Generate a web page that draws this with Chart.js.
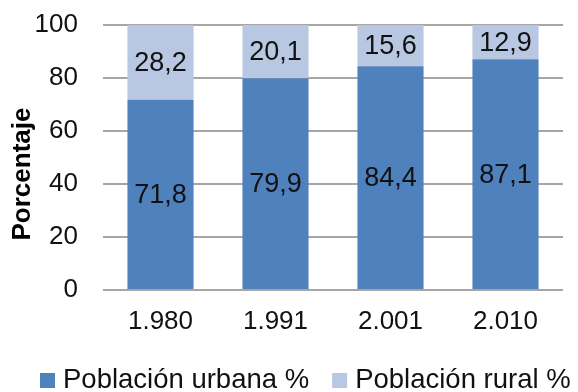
<!DOCTYPE html>
<html>
<head>
<meta charset="utf-8">
<script src="https://cdn.jsdelivr.net/npm/chart.js@4"></script>
<style>
  html, body { margin: 0; padding: 0; background: #ffffff; }
  #wrap { width: 578px; height: 392px; }
</style>
</head>
<body>
<div id="wrap"><canvas id="c" width="578" height="392"></canvas></div>
<script>
const years = ['1.980', '1.991', '2.001', '2.010'];
const urbana = [71.8, 79.9, 84.4, 87.1];
const rural = [28.2, 20.1, 15.6, 12.9];
const yTicks = [0, 20, 40, 60, 80, 100];

const FONT = "Arial, 'Liberation Sans', sans-serif";
const COLOR_URBANA = '#4f81bd';
const COLOR_RURAL = '#b9c8e2';
const fmt = v => v.toFixed(1).replace('.', ',');

// Writes each segment's value in the middle of its bar piece
const segmentLabels = {
  id: 'segmentLabels',
  afterDatasetsDraw(chart) {
    const ctx = chart.ctx;
    ctx.save();
    ctx.font = '27px ' + FONT;
    ctx.fillStyle = '#111111';
    ctx.textAlign = 'center';
    ctx.textBaseline = 'middle';
    chart.data.datasets.forEach((ds, i) => {
      const meta = chart.getDatasetMeta(i);
      meta.data.forEach((bar, j) => {
        const p = bar.getProps(['x', 'y', 'base'], true);
        ctx.fillText(fmt(ds.data[j]), p.x, (p.y + p.base) / 2 + 1);
      });
    });
    ctx.restore();
  }
};

// Vertical axis caption
const yCaption = {
  id: 'yCaption',
  afterDraw(chart) {
    const ctx = chart.ctx;
    ctx.save();
    ctx.translate(23, 174);
    ctx.rotate(-Math.PI / 2);
    ctx.font = 'bold 26px ' + FONT;
    ctx.fillStyle = '#000000';
    ctx.textAlign = 'center';
    ctx.textBaseline = 'middle';
    ctx.fillText('Porcentaje', 0, 0);
    ctx.restore();
  }
};

// Legend row under the axis, built from the datasets
const bottomLegend = {
  id: 'bottomLegend',
  afterDraw(chart) {
    const ctx = chart.ctx;
    ctx.save();
    ctx.font = '27.5px ' + FONT;
    ctx.textAlign = 'left';
    ctx.textBaseline = 'middle';
    let x = 40;
    const yMid = 380;
    chart.data.datasets.forEach(ds => {
      ctx.fillStyle = ds.backgroundColor;
      ctx.fillRect(x, yMid - 7, 15, 15);
      ctx.fillStyle = '#111111';
      const tx = x + 23;
      ctx.fillText(ds.label, tx, yMid);
      x = tx + ctx.measureText(ds.label).width + 23;
    });
    ctx.restore();
  }
};

new Chart(document.getElementById('c'), {
  type: 'bar',
  data: {
    labels: years,
    datasets: [
      {
        label: 'Población urbana %',
        data: urbana,
        backgroundColor: COLOR_URBANA,
        barPercentage: 0.575,
        categoryPercentage: 1.0
      },
      {
        label: 'Población rural %',
        data: rural,
        backgroundColor: COLOR_RURAL,
        barPercentage: 0.575,
        categoryPercentage: 1.0
      }
    ]
  },
  options: {
    responsive: false,
    animation: false,
    devicePixelRatio: 1,
    layout: { padding: { top: 25, right: 15, left: 0, bottom: 0 } },
    plugins: {
      legend: { display: false },
      tooltip: { enabled: false }
    },
    scales: {
      x: {
        stacked: true,
        grid: { display: false, drawTicks: false },
        border: { display: false },
        ticks: {
          font: { family: FONT, size: 26 },
          color: '#111111',
          padding: 16
        },
        afterFit(s) { s.height = 102; s.paddingLeft = 0; s.paddingRight = 0; }
      },
      y: {
        stacked: true,
        min: 0,
        max: 100,
        afterBuildTicks(s) { s.ticks = yTicks.map(v => ({ value: v })); },
        grid: { color: '#a6a6a6', lineWidth: 2, drawTicks: false },
        border: { display: false },
        ticks: {
          font: { family: FONT, size: 26 },
          color: '#111111',
          padding: 25
        },
        afterFit(s) { s.width = 103; s.paddingTop = 0; s.paddingBottom = 0; }
      }
    }
  },
  plugins: [segmentLabels, yCaption, bottomLegend]
});
</script>
</body>
</html>
